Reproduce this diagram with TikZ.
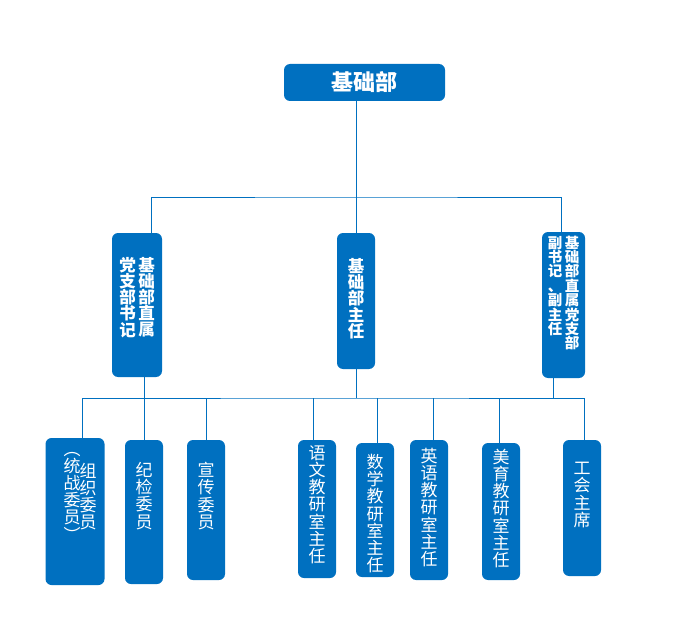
\documentclass[tikz,border=0pt]{standalone}
\usepackage{fontspec}
\setmainfont{Noto Sans CJK SC}
\definecolor{azul}{HTML}{0070C0}
\newcommand{\vcol}[1]{\parbox[c]{1em}{\centering\lineskiplimit=-50pt #1}}
\newcommand{\vcolt}[1]{\parbox[t]{1em}{\centering\lineskiplimit=-50pt #1}}
\newcommand{\vtxt}[2]{\raisebox{#1}[0pt][0pt]{#2}}

\begin{document}
\begin{tikzpicture}[x=1pt,y=-1pt,
        caja/.style={fill=azul,rounded corners=6pt,text=white,inner sep=0pt},
        cajam/.style={caja,font=\fontsize{16.5}{16.2}\selectfont\bfseries},
        cajab/.style={caja,minimum width=38pt,font=\fontsize{17}{17.2}\selectfont},
        linea/.style={draw=azul,line width=0.8pt}]
    \useasboundingbox (0,0) rectangle (681,642);
    % Nivel superior
    \node[caja,minimum width=161pt,minimum height=37pt,font=\fontsize{22}{24}\selectfont\bfseries] (jcb) at (364.5,82.5) {基础部};
    % Nivel medio
    \node[cajam,minimum width=50pt,minimum height=144pt] (zbsj) at (137,305) {\vtxt{3.4pt}{\vcol{党\\支\\部\\书\\记}\hspace{2.5pt}\vcol{基\\础\\部\\直\\属}}};
    \node[cajam,minimum width=38pt,minimum height=136pt] (zr) at (356,301) {\vtxt{-2pt}{\vcol{基\\础\\部\\主\\任}}};
    \node[caja,minimum width=43pt,minimum height=146pt,font=\fontsize{14.5}{14.4}\selectfont\bfseries] (fsj) at (563.5,305) {\vtxt{57pt}{\vcolt{副\\书\\记\\、\\副\\主\\任}\hspace{2.5pt}\vcolt{基\\础\\部\\直\\属\\党\\支\\部}}};
    % Nivel inferior
    \node[cajab,minimum width=59pt,minimum height=147pt] (zz) at (75,511.5) {\vtxt{10.7pt}{\hspace{10pt}\vcol{︵\\统\\战\\委\\员\\︶}\hspace{-1pt}\vcol{组\\织\\委\\员}}};
    \node[cajab,minimum height=144pt] (jj) at (144,512) {\vtxt{11.7pt}{\vcol{纪\\检\\委\\员}}};
    \node[cajab,minimum height=140pt] (xc) at (206,510) {\vtxt{9.7pt}{\vcol{宣\\传\\委\\员}}};
    \node[cajab,minimum height=138pt] (yw) at (317,509) {\vtxt{0pt}{\vcol{语\\文\\教\\研\\室\\主\\任}}};
    \node[cajab,minimum height=134pt] (sx) at (375,510) {\vtxt{-8pt}{\vcol{数\\学\\教\\研\\室\\主\\任}}};
    \node[cajab,minimum height=140pt] (yy) at (429,510) {\vtxt{-1.7pt}{\vcol{英\\语\\教\\研\\室\\主\\任}}};
    \node[cajab,minimum height=137pt] (my) at (501,511.5) {\vtxt{-1.2pt}{\vcol{美\\育\\教\\研\\室\\主\\任}}};
    \node[cajab,minimum height=136pt] (gh) at (582,508) {\vtxt{8.7pt}{\vcol{工\\会\\主\\席}}};
    % Conectores
    \coordinate (bus1) at (356,197);
    \coordinate (bus2) at (356,398);
    \draw[linea] (zr.north) -- (zr.north |- jcb.south);
    \draw[linea] ([xshift=14pt]zbsj.north) |- (bus1) -| ([xshift=-2.5pt]fsj.north);
    \draw[linea] (zr.south) -- (bus2);
    \draw[linea] (jj.north |- zbsj.south) -- (jj.north);
    \draw[linea] ([xshift=-10.5pt]fsj.south) -- ([xshift=-10.5pt]fsj.south |- bus2);
    \draw[linea] ([xshift=7.5pt]zz.north) |- (bus2) -| ([xshift=2pt]gh.north);
    \draw[linea] (xc.north) -- (xc.north |- bus2);
    \draw[linea] ([xshift=-4pt]yw.north) -- ([xshift=-4pt]yw.north |- bus2);
    \draw[linea] ([xshift=2pt]sx.north) -- ([xshift=2pt]sx.north |- bus2);
    \draw[linea] ([xshift=4pt]yy.north) -- ([xshift=4pt]yy.north |- bus2);
    \draw[linea] ([xshift=-2pt]my.north) -- ([xshift=-2pt]my.north |- bus2);
\end{tikzpicture}
\end{document}
